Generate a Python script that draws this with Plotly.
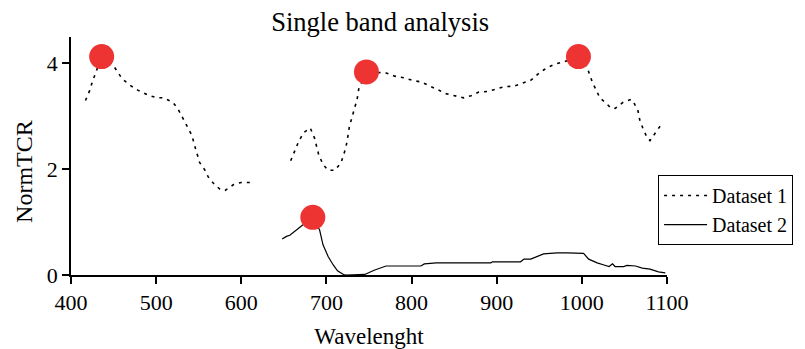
import plotly.graph_objects as go

# Dataset 1 (dotted), three segments separated by gaps (None)
ds1_x = [417, 422, 425, 429, 436, 449, 460, 470, 479, 491, 501, 509, 520, 526, 532, 537, 542, 545, 548, 551, 557, 561, 567, 575, 581, 591, 600, 612,
         None,
         658, 663, 667, 673, 681, 686, 691, 696, 702, 710, 717, 721, 724, 727, 730, 733, 736, 738, 747, 770, 780, 791, 801, 811, 821, 830, 840, 849,
         861, 870, 879, 889, 899, 909, 920, 930, 940, 950, 959, 969, 979, 996, 1006, 1009, 1013, 1018, 1021, 1027, 1034, 1039, 1048, 1058, 1061, 1066, 1068, 1072, 1076, 1080, 1086, 1093]
ds1_y = [3.30, 3.49, 3.65, 3.82, 4.13, 3.98, 3.71, 3.58, 3.49, 3.40, 3.35, 3.35, 3.26, 3.13, 2.95, 2.78, 2.64, 2.46, 2.31, 2.13, 1.99, 1.86, 1.74, 1.62, 1.60, 1.71, 1.75, 1.75,
         None,
         2.16, 2.34, 2.51, 2.69, 2.78, 2.59, 2.27, 2.09, 1.98, 1.98, 2.12, 2.31, 2.50, 2.81, 2.97, 3.16, 3.32, 3.52, 3.84, 3.82, 3.76, 3.73, 3.68, 3.65, 3.58, 3.51, 3.43, 3.39,
         3.35, 3.39, 3.46, 3.47, 3.51, 3.56, 3.57, 3.62, 3.68, 3.82, 3.92, 3.99, 4.03, 4.13, 3.95, 3.79, 3.62, 3.46, 3.35, 3.27, 3.16, 3.15, 3.26, 3.32, 3.26, 3.10, 2.93, 2.76, 2.62, 2.54, 2.67, 2.84]

# Dataset 2 (solid)
ds2_x = [648, 653, 657, 663, 671, 684, 692, 696, 702, 708, 713, 720, 723, 745, 756, 770, 811, 815, 829, 870, 893, 895, 928, 932, 940, 955, 971, 983, 993, 1002,
         1008, 1018, 1026, 1032, 1036, 1039, 1049, 1053, 1063, 1071, 1080, 1090, 1098]
ds2_y = [0.68, 0.73, 0.75, 0.82, 0.93, 1.09, 0.85, 0.57, 0.35, 0.19, 0.08, 0.01, 0.0, 0.01, 0.09, 0.17, 0.17, 0.21, 0.23, 0.23, 0.23, 0.25, 0.25, 0.30, 0.30, 0.40, 0.42, 0.42, 0.41, 0.41,
         0.30, 0.23, 0.19, 0.16, 0.21, 0.16, 0.16, 0.18, 0.17, 0.13, 0.11, 0.06, 0.04]

# Highlighted peaks
peak_x = [436, 747, 996, 684]
peak_y = [4.13, 3.84, 4.13, 1.09]

x_ticks = [400, 500, 600, 700, 800, 900, 1000, 1100]
y_ticks = [0, 2, 4]

FONT = "Liberation Serif"

fig = go.Figure()
fig.add_trace(go.Scatter(x=ds1_x, y=ds1_y, mode="lines", name="Dataset 1",
                         line=dict(color="black", width=1.6, dash="3px,5px")))
fig.add_trace(go.Scatter(x=ds2_x, y=ds2_y, mode="lines", name="Dataset 2",
                         line=dict(color="black", width=1.2)))
fig.add_trace(go.Scatter(x=peak_x, y=peak_y, mode="markers", showlegend=False,
                         marker=dict(color="#EE3333", size=25, line=dict(width=0))))

# page body has an 8px margin; the figure is sized to fill the remaining window
fig.update_layout(
    width=797, height=341,
    margin=dict(l=63, r=134, t=29, b=74),
    paper_bgcolor="white", plot_bgcolor="white",
    font=dict(family=FONT, color="black", size=21),
    title=dict(text="Single band analysis", x=0.467, xanchor="center", y=0.96, yanchor="middle",
               font=dict(family=FONT, size=26.5, color="black")),
    legend=dict(x=0.985, xanchor="left", y=0.42, yanchor="top",
                bordercolor="black", borderwidth=1, bgcolor="white",
                font=dict(family=FONT, size=20, color="black"),
                itemwidth=43, tracegroupgap=0),
    showlegend=True,
    annotations=[dict(text="NormTCR", xref="paper", yref="paper", x=-0.079, y=0.437,
                      xanchor="center", yanchor="middle", textangle=-90, showarrow=False,
                      font=dict(family=FONT, size=24, color="black"))],
)
fig.update_xaxes(range=[400, 1100], tickvals=x_ticks, ticktext=[str(v) for v in x_ticks],
                 showline=True, linecolor="black", linewidth=1.5, ticks="outside", ticklen=7,
                 tickwidth=1.5, tickcolor="black", showgrid=False, zeroline=False, automargin=False,
                 title=dict(text="Wavelenght", font=dict(family=FONT, size=23), standoff=16),
                 tickfont=dict(family=FONT, size=22))
fig.update_yaxes(range=[0, 4.5], tickvals=y_ticks, ticktext=[str(v) for v in y_ticks],
                 showline=True, linecolor="black", linewidth=1.5, ticks="outside", ticklen=7,
                 tickwidth=1.5, tickcolor="black", showgrid=False, zeroline=False, automargin=False,
                 tickfont=dict(family=FONT, size=22))

fig.write_html("out.html")
